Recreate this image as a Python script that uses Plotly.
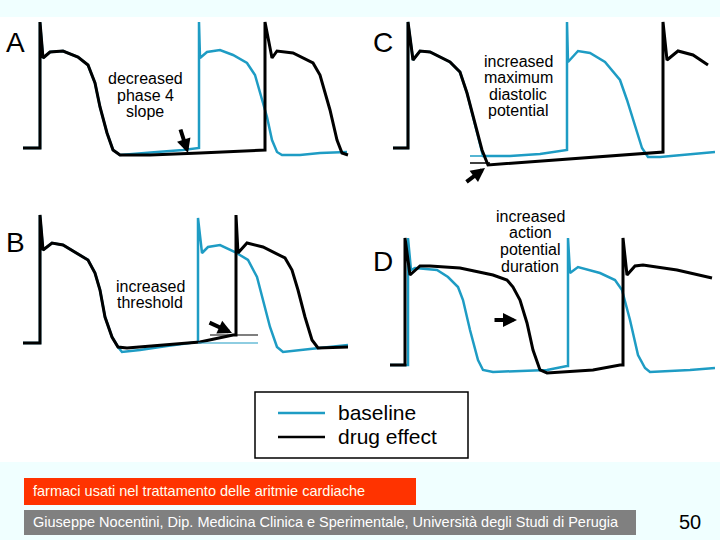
import plotly.graph_objects as go

W, H = 720, 540
BLUE = "#1E9CC4"
BLACK = "#000000"
FONT = "Liberation Sans, Arial, sans-serif"

series_names = ["baseline", "drug effect"]
panel_letters = ["A", "B", "C", "D"]

# ---------------- data: time (ms) and membrane potential (mV) ----------------
# Panel A - decreased phase 4 slope
A_t_base = [6, 40, 40, 46, 60, 86, 116, 136, 150, 160, 174, 186, 200, 230, 274, 326, 354, 358, 358, 360,
            374, 400, 426, 454, 470, 480, 494, 504, 514, 524, 560, 600, 654]
A_v_base = [-96, -96, 30, -6, 0, 1, -5, -13, -31, -55, -81, -98, -103, -102, -100, -98, -96, -96, 30, -6,
            0, 2, -3, -11, -23, -41, -65, -88, -100, -103, -103, -101, -100]
A_t_drug = [6, 40, 40, 46, 60, 86, 116, 136, 150, 160, 174, 186, 200, 260, 360, 490, 490, 504, 514, 546,
            586, 600, 620, 634, 644, 656]
A_v_drug = [-96, -96, 30, -6, 0, 1, -5, -13, -31, -55, -81, -98, -103, -103, -101, -98, 30, -6, 1, -1,
            -11, -23, -58, -88, -101, -103]
A_note = ["decreased", "phase 4", "slope"]

# Panel B - increased threshold
B_t_base = [6, 40, 40, 46, 64, 86, 136, 150, 160, 170, 184, 196, 204, 240, 294, 356, 356, 364, 376, 400,
            430, 456, 474, 486, 500, 514, 526, 580, 656]
B_v_base = [-97, -97, 31, -4, 3, 1, -14, -27, -44, -71, -91, -101, -106, -104, -100, -96, 28, -7, -1, 1,
            -6, -14, -31, -54, -81, -101, -106, -103, -99]
B_t_drug = [6, 40, 40, 46, 64, 86, 136, 150, 160, 170, 184, 196, 214, 294, 360, 426, 432, 432, 436, 454,
            486, 530, 544, 556, 570, 584, 596, 656]
B_v_drug = [-97, -97, 31, -4, 3, 1, -14, -27, -44, -71, -91, -101, -102, -99, -96, -89, -89, 31, -7, 3,
            -1, -12, -24, -44, -71, -94, -102, -101]
B_thr_t_base = [356, 476]
B_thr_v_base = [-97, -97]
B_thr_t_drug = [380, 476]
B_thr_v_drug = [-89, -89]
B_note = ["increased", "threshold"]

# Panel C - increased maximum diastolic potential
C_t_base = [26, 56, 56, 66, 80, 100, 140, 160, 174, 190, 202, 206, 260, 320, 370, 374, 374, 376, 396, 420,
            450, 480, 494, 510, 524, 536, 560, 626, 670]
C_v_base = [-96, -96, 30, -8, 1, 0, -10, -20, -41, -71, -96, -104, -104, -102, -98, -98, 30, -10, 1, -1,
            -10, -28, -48, -75, -96, -105, -105, -102, -100]
C_t_drug = [26, 56, 56, 66, 80, 100, 140, 160, 174, 190, 204, 216, 560, 566, 566, 574, 596, 626, 656]
C_v_drug = [-96, -96, 30, -8, 1, 0, -10, -20, -41, -71, -98, -113, -100, -100, 30, -8, 1, -3, -13]
C_mdp_t_base = [180, 206]
C_mdp_v_base = [-104, -104]
C_mdp_t_drug = [180, 220]
C_mdp_v_drug = [-111, -111]
C_note = ["increased", "maximum", "diastolic", "potential"]

# Panel D - increased action potential duration
D_t_base = [20, 56, 56, 62, 70, 114, 136, 156, 166, 180, 196, 206, 226, 334, 374, 376, 376, 380, 396, 440,
            470, 484, 500, 516, 530, 540, 620, 670]
D_v_base = [-97, -97, 30, -2, 0, -2, -9, -19, -32, -62, -92, -102, -104, -102, -98, -98, 30, -5, 1, -5,
            -12, -22, -52, -87, -100, -104, -102, -100]
D_t_drug = [20, 50, 50, 60, 80, 100, 160, 226, 254, 266, 280, 294, 306, 320, 334, 426, 480, 486, 486, 494,
            510, 526, 594, 664]
D_v_drug = [-97, -97, 30, -7, 2, 2, 0, -7, -12, -19, -32, -55, -82, -102, -105, -102, -97, -97, 30, -7,
            2, 3, -2, -10]
D_note = ["increased", "action", "potential", "duration"]

footer_title = "farmaci usati nel trattamento delle aritmie cardiache"
footer_author = "Giuseppe Nocentini, Dip. Medicina Clinica e Sperimentale, Università degli Studi di Perugia"
page_number = "50"

# ---------------- layout helpers ----------------
def fx(x):
    return x / W

def fy(y):
    return 1 - y / H

T_RANGE = [0, 670]
V_RANGE = [-140, 60]
PANEL_W = 335
PANEL_H = 200
# panel left pixel, pixel row of V_RANGE top
panels = {
    "A": dict(left=20, top=-8, n=1),
    "B": dict(left=20, top=186, n=2),
    "C": dict(left=380, top=-8, n=3),
    "D": dict(left=380, top=208, n=4),
}

fig = go.Figure()
layout = dict(width=W, height=H, margin=dict(l=0, r=0, t=0, b=0),
              paper_bgcolor="#F0FFFF", plot_bgcolor="rgba(0,0,0,0)", showlegend=False)

for key, p in panels.items():
    n = p["n"]
    xa = "xaxis" if n == 1 else f"xaxis{n}"
    ya = "yaxis" if n == 1 else f"yaxis{n}"
    y0 = max(0.0, fy(p["top"] + PANEL_H))
    y1 = min(1.0, fy(p["top"]))
    # keep 1 px = 1 mV even when the domain is clipped at the top
    vr = [V_RANGE[0], V_RANGE[0] + (y1 - y0) * H]
    layout[xa] = dict(domain=[fx(p["left"]), fx(p["left"] + PANEL_W)], range=T_RANGE, visible=False,
                      anchor="y" if n == 1 else f"y{n}", fixedrange=True)
    layout[ya] = dict(domain=[y0, y1], range=vr, visible=False,
                      anchor="x" if n == 1 else f"x{n}", fixedrange=True)

fig.update_layout(**layout)

def ax_ids(key):
    n = panels[key]["n"]
    return ("x", "y") if n == 1 else (f"x{n}", f"y{n}")

def add_line(key, t, v, color, width, name):
    xr, yr = ax_ids(key)
    fig.add_trace(go.Scatter(x=t, y=v, mode="lines", line=dict(color=color, width=width),
                             xaxis=xr, yaxis=yr, name=name, cliponaxis=False, hoverinfo="skip"))

data = {
    "A": (A_t_base, A_v_base, A_t_drug, A_v_drug),
    "B": (B_t_base, B_v_base, B_t_drug, B_v_drug),
    "C": (C_t_base, C_v_base, C_t_drug, C_v_drug),
    "D": (D_t_base, D_v_base, D_t_drug, D_v_drug),
}
for key, (tb, vb, td, vd) in data.items():
    add_line(key, tb, vb, BLUE, 2.5, series_names[0])
    add_line(key, td, vd, BLACK, 3, series_names[1])

add_line("B", B_thr_t_base, B_thr_v_base, BLUE, 1.2, series_names[0])
add_line("B", B_thr_t_drug, B_thr_v_drug, BLACK, 1.2, series_names[1])
add_line("C", C_mdp_t_base, C_mdp_v_base, BLUE, 1.5, series_names[0])
add_line("C", C_mdp_t_drug, C_mdp_v_drug, BLACK, 1.5, series_names[1])

annotations = []

def note(key, lines, tc, vs):
    xr, yr = ax_ids(key)
    for s, v in zip(lines, vs):
        annotations.append(dict(x=tc, y=v, xref=xr, yref=yr, text=s, showarrow=False,
                                font=dict(family=FONT, size=16, color="black"),
                                xanchor="center", yanchor="middle"))

note("A", A_note, 250, [-26, -43, -59])
note("B", B_note, 260, [-40, -56])
note("C", C_note, 276, [-9, -25, -42, -58])
note("D", D_note, 300, [52, 36, 19, 2])

def arrow(key, t, v, ax, ay):
    xr, yr = ax_ids(key)
    annotations.append(dict(x=t, y=v, xref=xr, yref=yr, ax=ax, ay=ay, text="", showarrow=True,
                            arrowhead=2, arrowsize=0.7, arrowwidth=4, arrowcolor="black", standoff=0))

arrow("A", 336, -101, -8, -25)
arrow("B", 424, -87, -24, -11)
arrow("C", 210, -116, -20, 15)
arrow("D", 274, -52, -24, 0)

letter_pos = {"A": (15, 43), "B": (15, 242), "C": (383, 43), "D": (383, 261)}
for L in panel_letters:
    x, y = letter_pos[L]
    annotations.append(dict(x=fx(x), y=fy(y), xref="paper", yref="paper", text=L, showarrow=False,
                            font=dict(family=FONT, size=28, color="black"),
                            xanchor="center", yanchor="middle"))

# legend (manual)
leg_y = [413, 437]
leg_col = [BLUE, BLACK]
shapes = [
    dict(type="rect", xref="paper", yref="paper", x0=0, x1=1, y0=fy(462), y1=fy(17),
         fillcolor="white", line=dict(width=0), layer="below"),
    dict(type="rect", xref="paper", yref="paper", x0=fx(255), x1=fx(468), y0=fy(458), y1=fy(392),
         fillcolor="white", line=dict(color="black", width=1.5)),
    dict(type="rect", xref="paper", yref="paper", x0=fx(24), x1=fx(416), y0=fy(505), y1=fy(478),
         fillcolor="#FF3300", line=dict(width=0)),
    dict(type="rect", xref="paper", yref="paper", x0=fx(24), x1=fx(636), y0=fy(535), y1=fy(510),
         fillcolor="#808080", line=dict(width=0)),
]
for name, y, c in zip(series_names, leg_y, leg_col):
    shapes.append(dict(type="line", xref="paper", yref="paper", x0=fx(278), x1=fx(325), y0=fy(y), y1=fy(y),
                       line=dict(color=c, width=2.5)))
    annotations.append(dict(x=fx(336), y=fy(y - 1), xref="paper", yref="paper", text=name, showarrow=False,
                            font=dict(family=FONT, size=21, color="black"), xanchor="left", yanchor="middle"))

annotations.append(dict(x=fx(31), y=fy(491), xref="paper", yref="paper", text=footer_title, showarrow=False,
                        font=dict(family=FONT, size=14.5, color="#FFFFF0"), xanchor="left", yanchor="middle"))
annotations.append(dict(x=fx(31), y=fy(522), xref="paper", yref="paper", text=footer_author, showarrow=False,
                        font=dict(family=FONT, size=14.5, color="white"), xanchor="left", yanchor="middle"))
annotations.append(dict(x=fx(690), y=fy(522), xref="paper", yref="paper", text=page_number, showarrow=False,
                        font=dict(family=FONT, size=20, color="black"), xanchor="center", yanchor="middle"))

fig.update_layout(shapes=shapes, annotations=annotations)
fig.write_html("out.html",
               config={"displayModeBar": False, "staticPlot": True},
               post_script="document.body.style.margin='0';document.body.style.padding='0';"
                           "document.body.style.overflow='hidden';")
